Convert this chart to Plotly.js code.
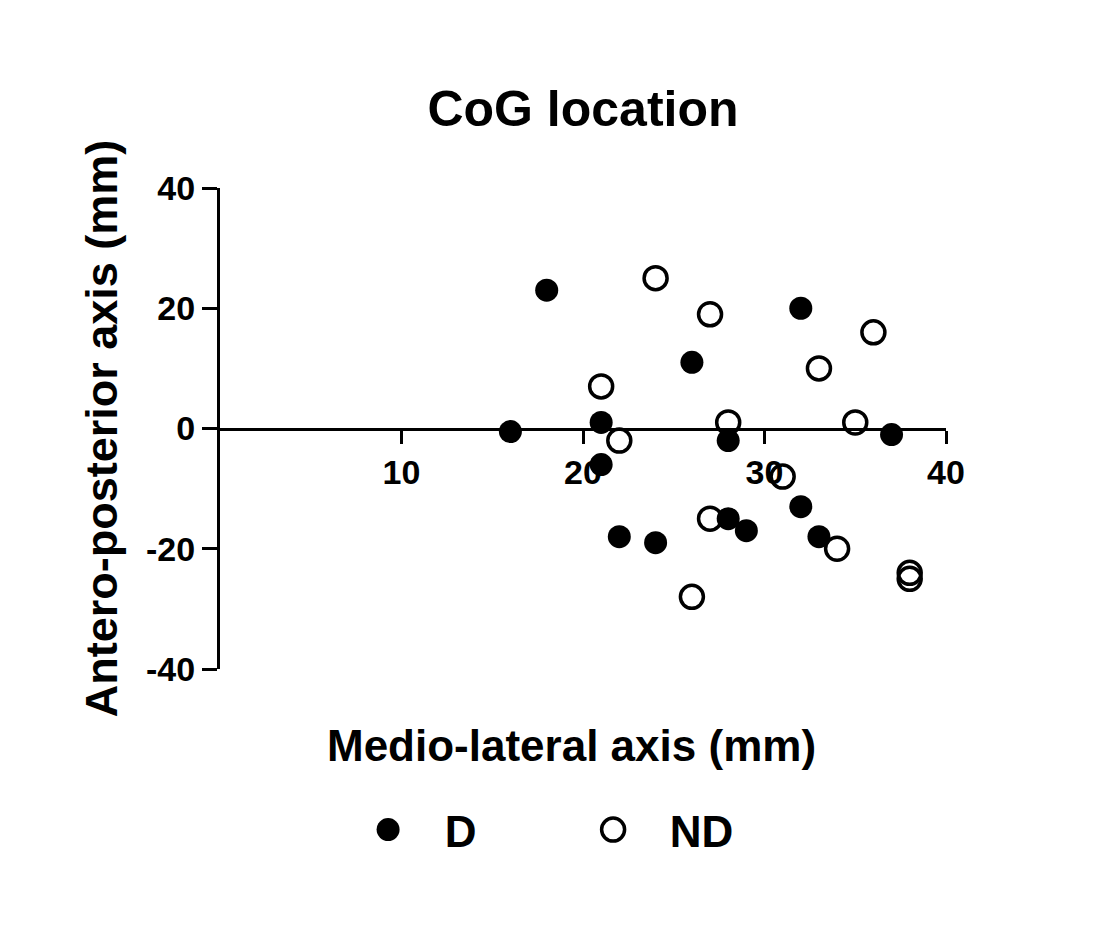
<!DOCTYPE html>
<html>
<head>
<meta charset="utf-8">
<script src="https://cdn.plot.ly/plotly-3.0.1.min.js"></script>
<style>html,body{margin:0;padding:0;background:#fff;}</style>
</head>
<body>
<div id="chart" style="width:1111px;height:933px;"></div>
<script>
// Data (mm)
var dX  = [18, 16, 21, 21, 26, 32, 28, 37, 22, 24, 28, 29, 32, 33];
var dY  = [23, -0.5, 1, -6, 11, 20, -2, -1, -18, -19, -15, -17, -13, -18];
var ndX = [24, 27, 21, 22, 28, 36, 33, 35, 31, 27, 34, 38, 38, 26];
var ndY = [25, 19, 7, -2, 1, 16, 10, 1, -8, -15, -20, -24, -25, -28];
var seriesNames = ['D', 'ND'];
var xTicks = [10, 20, 30, 40];
var yTicks = [-40, -20, 0, 20, 40];

var FONT = 'Liberation Sans, Arial, sans-serif';
var NB = '\u00A0\u00A0\u00A0';

var traces = [
  {
    x: dX, y: dY, type: 'scatter', mode: 'markers', name: NB + seriesNames[0],
    marker: {symbol: 'circle', size: 23, color: '#000', line: {width: 0}},
    cliponaxis: false
  },
  {
    x: ndX, y: ndY, type: 'scatter', mode: 'markers', name: NB + seriesNames[1],
    marker: {symbol: 'circle-open', size: 23, color: '#000', line: {width: 3.5, color: '#000'}},
    cliponaxis: false
  }
];

var layout = {
  width: 1111, height: 933,
  margin: {l: 220, r: 165, t: 188, b: 264, pad: 0},
  paper_bgcolor: '#fff', plot_bgcolor: '#fff',
  font: {family: FONT, color: '#000', weight: 'bold'},
  title: {
    text: 'CoG location', x: 0.5, xref: 'paper', xanchor: 'center',
    y: 1 - 108 / 933, yref: 'container', yanchor: 'middle',
    font: {family: FONT, size: 50, color: '#000', weight: 'bold'}
  },
  xaxis: {
    range: [0, 40], anchor: 'free', position: 0.5,
    tickvals: xTicks, ticktext: xTicks.map(String),
    ticks: 'outside', ticklen: 13, tickwidth: 3, tickcolor: '#000',
    showline: true, linewidth: 3, linecolor: '#000',
    showgrid: false, zeroline: false,
    tickfont: {family: FONT, size: 34, color: '#000', weight: 'bold'}
  },
  yaxis: {
    range: [-40, 40],
    tickvals: yTicks, ticktext: yTicks.map(String),
    ticks: 'outside', ticklen: 15, tickwidth: 3, tickcolor: '#000',
    showline: true, linewidth: 3, linecolor: '#000',
    showgrid: false, zeroline: false,
    tickfont: {family: FONT, size: 34, color: '#000', weight: 'bold'},
    title: {text: 'Antero-posterior axis (mm)', standoff: 15,
            font: {family: FONT, size: 45, color: '#000', weight: 'bold'}}
  },
  annotations: [{
    text: 'Medio-lateral axis (mm)', xref: 'paper', yref: 'paper',
    x: 0.484, y: (669 - 745) / 481, xanchor: 'center', yanchor: 'middle',
    showarrow: false, font: {family: FONT, size: 44, color: '#000', weight: 'bold'}
  }],
  showlegend: true,
  legend: {
    orientation: 'h', x: 0.204, xanchor: 'left',
    y: (669 - 830) / 481, yanchor: 'middle',
    entrywidth: 180, entrywidthmode: 'pixels',
    font: {family: FONT, size: 44, color: '#000', weight: 'bold'},
    bgcolor: 'rgba(0,0,0,0)', borderwidth: 0
  }
};

Plotly.newPlot('chart', traces, layout, {displayModeBar: false, responsive: false}).then(function (gd) {
  // Enlarge legend symbols to match the plotted marker size (Plotly caps them at 16px)
  var pts = gd.querySelectorAll('.legend .legendpoints path.scatterpts');
  var k = 23 / 16;
  pts.forEach(function (p, i) {
    var t = p.getAttribute('transform') || '';
    p.setAttribute('transform', t + ' scale(' + k + ')');
    if (i === 1) { p.style.strokeWidth = (3.5 / k) + 'px'; }
  });
});
</script>
</body>
</html>
